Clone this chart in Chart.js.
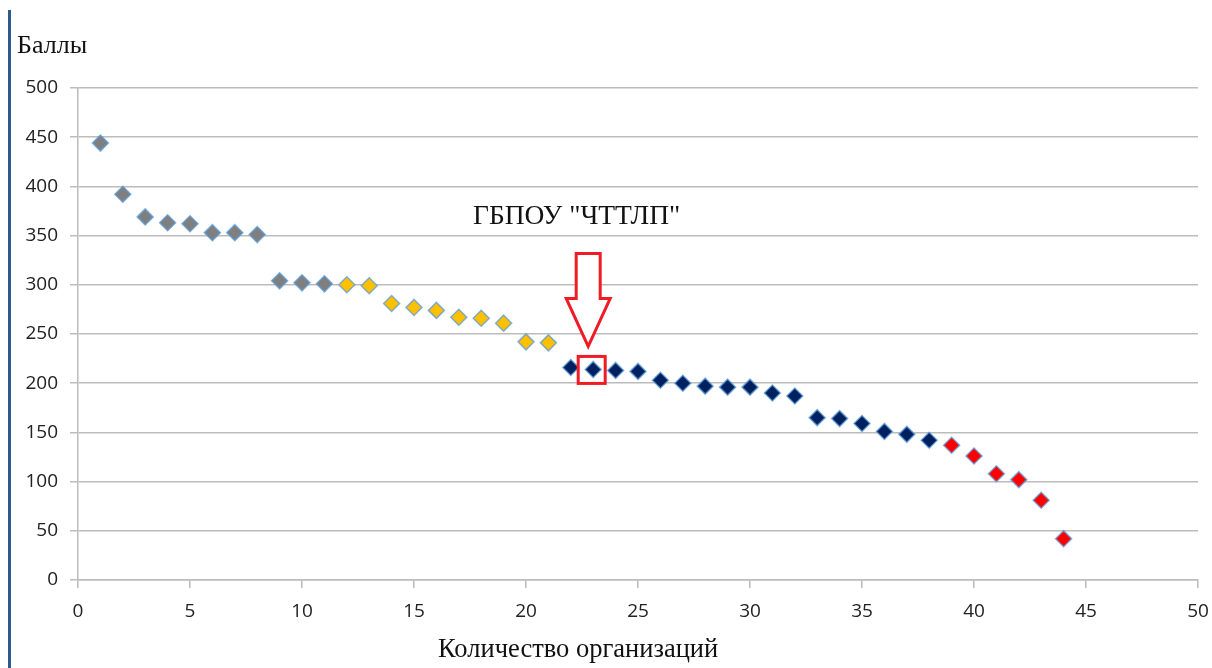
<!DOCTYPE html>
<html>
<head>
<meta charset="utf-8">
<script src="https://cdn.jsdelivr.net/npm/chart.js@4/dist/chart.umd.min.js"></script>
<style>
  html, body { margin: 0; padding: 0; background: #fff; }
  #wrap { position: relative; width: 1212px; height: 668px; overflow: hidden; }
  #chart { position: absolute; left: 0; top: 0; }
  .bar { position: absolute; left: 8px; top: 10px; width: 3px; height: 658px; background: #2b5a8b; }
  .ttl { position: absolute; font-family: "Liberation Serif", "Times New Roman", serif; color: #111; white-space: nowrap; line-height: 1; }
</style>
</head>
<body>
<div id="wrap">
  <canvas id="chart" width="1212" height="668"></canvas>
  <div class="bar"></div>
  <div class="ttl" style="left:17px; top:32px; font-size:26px;">Баллы</div>
  <div class="ttl" style="left:473px; top:201px; font-size:27.5px;">ГБПОУ "ЧТТЛП"</div>
  <div class="ttl" style="left:438px; top:635px; font-size:26.5px;">Количество организаций</div>
</div>
<script>
// место организации и баллы
const ranksGrey = [1, 2, 3, 4, 5, 6, 7, 8, 9, 10, 11];
const scoresGrey = [444, 392, 369, 363, 362, 353, 353, 351, 304, 302, 301];
const ranksYellow = [12, 13, 14, 15, 16, 17, 18, 19, 20, 21];
const scoresYellow = [300, 299, 281, 277, 274, 267, 266, 261, 242, 241];
const ranksNavy = [22, 23, 24, 25, 26, 27, 28, 29, 30, 31, 32, 33, 34, 35, 36, 37, 38];
const scoresNavy = [216, 214, 213, 212, 203, 200, 197, 196, 196, 190, 187, 165, 164, 159, 151, 148, 142];
const ranksRed = [39, 40, 41, 42, 43, 44];
const scoresRed = [137, 126, 108, 102, 81, 42];

const xTicks = [0, 5, 10, 15, 20, 25, 30, 35, 40, 45, 50];
const yTicks = [0, 50, 100, 150, 200, 250, 300, 350, 400, 450, 500];

const markedRank = 23;      // ГБПОУ "ЧТТЛП"
const markedScore = 214;

const pts = (xs, ys) => xs.map((x, i) => ({ x, y: ys[i] }));

const series = (data, fill) => ({
  data,
  backgroundColor: fill,
  borderColor: 'rgba(91, 155, 213, 0.75)',
  borderWidth: 1.5,
  pointStyle: 'rectRot',
  pointRadius: 8,
  pointHoverRadius: 8
});

// стрелка и рамка вокруг отмеченной точки
const arrowPlugin = {
  id: 'arrow',
  afterDatasetsDraw(chart) {
    const ctx = chart.ctx;
    const px = chart.scales.x.getPixelForValue(markedRank);
    const py = chart.scales.y.getPixelForValue(markedScore);
    ctx.save();
    ctx.strokeStyle = '#ee1c25';
    ctx.lineWidth = 3;
    ctx.lineJoin = 'miter';
    ctx.strokeRect(px - 15, py - 13, 27, 27);

    const cx = px - 5;
    ctx.beginPath();
    ctx.moveTo(cx - 12, py - 116);
    ctx.lineTo(cx + 12, py - 116);
    ctx.lineTo(cx + 12, py - 71);
    ctx.lineTo(cx + 22, py - 71);
    ctx.lineTo(cx, py - 23);
    ctx.lineTo(cx - 22, py - 71);
    ctx.lineTo(cx - 12, py - 71);
    ctx.closePath();
    ctx.fillStyle = '#fff';
    ctx.fill();
    ctx.stroke();
    ctx.restore();
  }
};

const gridColor = '#bcbcbc';
const tickFont = { family: '"Open Sans", sans-serif', size: 19 };

new Chart(document.getElementById('chart').getContext('2d'), {
  type: 'scatter',
  data: {
    datasets: [
      series(pts(ranksGrey, scoresGrey), '#7f7f7f'),
      series(pts(ranksYellow, scoresYellow), '#ffc000'),
      series(pts(ranksNavy, scoresNavy), '#002060'),
      series(pts(ranksRed, scoresRed), '#ff0000')
    ]
  },
  options: {
    responsive: false,
    animation: false,
    layout: { padding: { top: 88, right: 14, left: 0, bottom: 0 } },
    plugins: { legend: { display: false }, tooltip: { enabled: false } },
    scales: {
      x: {
        type: 'linear',
        min: 0,
        max: 50,
        afterFit: s => { s.height = 88; s.paddingRight = 0; s.paddingLeft = 0; },
        afterBuildTicks: s => { s.ticks = xTicks.map(v => ({ value: v })); },
        grid: { drawOnChartArea: false, color: gridColor, lineWidth: 1.5, tickLength: 8 },
        border: { color: gridColor, width: 1.5 },
        ticks: { color: '#222', font: tickFont, padding: 12, maxRotation: 0 }
      },
      y: {
        min: 0,
        max: 500,
        afterFit: s => { s.width = 78; },
        afterBuildTicks: s => { s.ticks = yTicks.map(v => ({ value: v })); },
        grid: { color: gridColor, lineWidth: 1.5, tickLength: 8 },
        border: { color: gridColor, width: 1.5 },
        ticks: { color: '#222', font: tickFont, padding: 12 }
      }
    }
  },
  plugins: [arrowPlugin]
});
</script>
</body>
</html>
